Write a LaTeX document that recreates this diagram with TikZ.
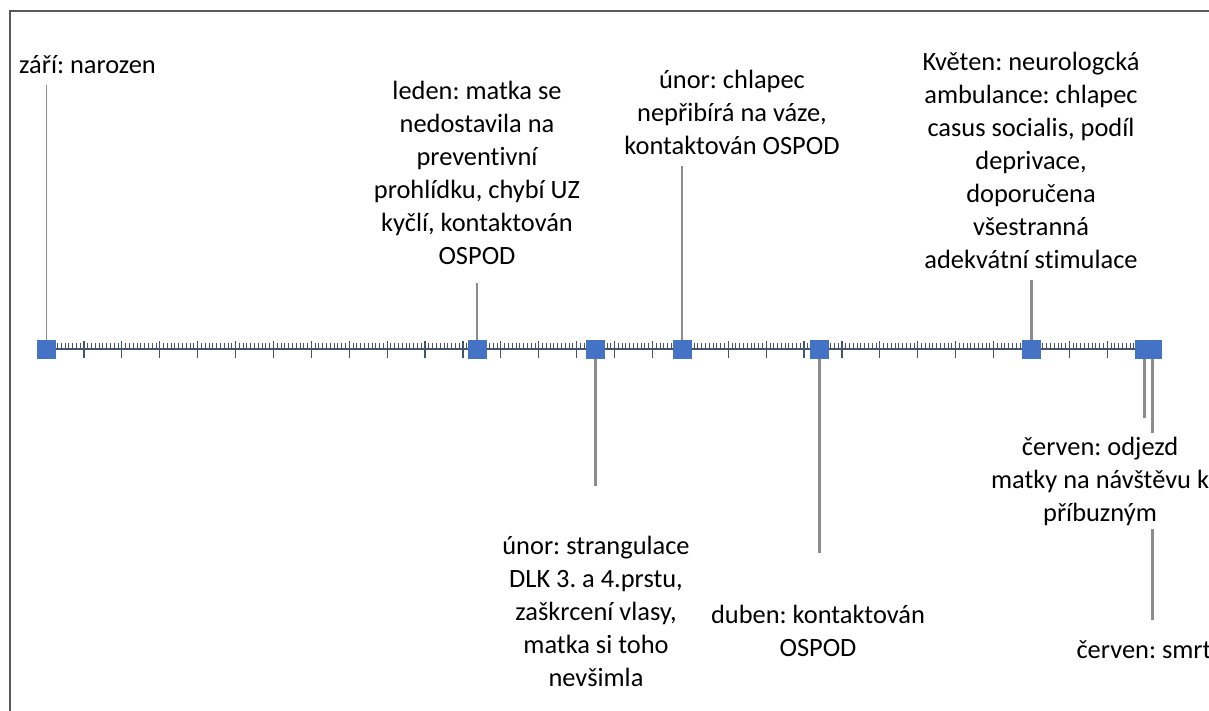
\documentclass[tikz,border=0pt]{standalone}
\usepackage{fontspec}
\setmainfont{Carlito}[Ligatures=NoCommon]
\frenchspacing
\usetikzlibrary{calc}
\definecolor{axisblue}{HTML}{44546A}
\definecolor{markblue}{HTML}{4472C4}
\definecolor{stemgray}{HTML}{8C8C8C}
\definecolor{framegray}{HTML}{595959}

\begin{document}
\begin{tikzpicture}[x=1pt,y=-1pt,
		event/.style={rectangle,fill=markblue,inner sep=0pt,minimum size=19pt},
		stem/.style={draw=stemgray,line width=2.5pt},
		note/.style={align=center,inner sep=0pt,anchor=base,font=\fontsize{26.4}{33}\selectfont}]
		\useasboundingbox (0,0) rectangle (1209,711);
		\draw[framegray,line width=2pt] (10,711) -- (10,11) -- (1209,11);
		
		% time axis
		\draw[axisblue,line width=1.5pt] (46,349) -- (1162,349);
		\foreach \m in {0,...,293}
			\draw[axisblue,line width=0.8pt] ({46+3.79*\m},342.5) -- ({46+3.79*\m},348);
		\foreach \k in {1,...,29}
			\draw[axisblue,line width=1.2pt] ({46+37.9*\k},341) -- ({46+37.9*\k},358);
		
		\node[event]  (e1) at (46.5,349.5)   {};
		\node[event]  (e2) at (477,349.5)    {};
		\node[event]  (e3) at (595.5,349.5)  {};
		\node[event]  (e4) at (682,349.5)    {};
		\node[event]  (e5) at (819.5,349.5)  {};
		\node[event]  (e6) at (1031.5,349.5) {};
		\node[event]  (e7) at (1144.5,349.5) {};
		\node[event]  (e8) at (1152.5,349.5) {};
		
		% labels, anchored at the baseline of their last line
		\node[note]   (l1) at (87.5,74)  {září: narozen};
		\node[note]   (l2) at (477,265)  {leden: matka se\\nedostavila na\\preventivní\\prohlídku, chybí UZ\\kyčlí, kontaktován\\OSPOD};
		\node[note]   (l3) at (596,686)  {únor: strangulace\\DLK 3. a 4.prstu,\\zaškrcení vlasy,\\matka si toho\\nevšimla};
		\node[note]   (l4) at (732,155)  {únor: chlapec\\nepřibírá na váze,\\kontaktován OSPOD};
		\node[note]   (l5) at (818,656)  {duben: kontaktován\\OSPOD};
		\node[note]   (l6) at (1031,269) {Květen: neurologcká\\ambulance: chlapec\\casus socialis, podíl\\deprivace,\\doporučena\\všestranná\\adekvátní stimulace};
		\node[note]   (l8) at (1144,658) {červen: smrt};
		
		\draw[stem,line width=1.2pt,shorten >=11pt] (e1) -- (e1 |- l1.south);
		\draw[stem,shorten >=18pt] (e2) -- (e2 |- l2.south);
		\draw[stem,shorten >=49pt] (e3) -- (e3 |- l3.north);
		\draw[stem,shorten >=11pt] (e4) -- (e4 |- l4.south);
		\draw[stem,shorten >=51pt] (e5) -- (e5 |- l5.north);
		\draw[stem,shorten >=11pt] (e6) -- (e6 |- l6.south);
		\draw[stem,shorten >=20pt] (e8) -- (e8 |- l8.north);
		
		\node[note,fill=white,inner sep=4pt] (l7) at (1100,521) {červen: odjezd\\matky na návštěvu k\\příbuzným};
		\draw[stem,shorten >=14pt] (e7) -- (e7 |- l7.north);
\end{tikzpicture}
\end{document}
